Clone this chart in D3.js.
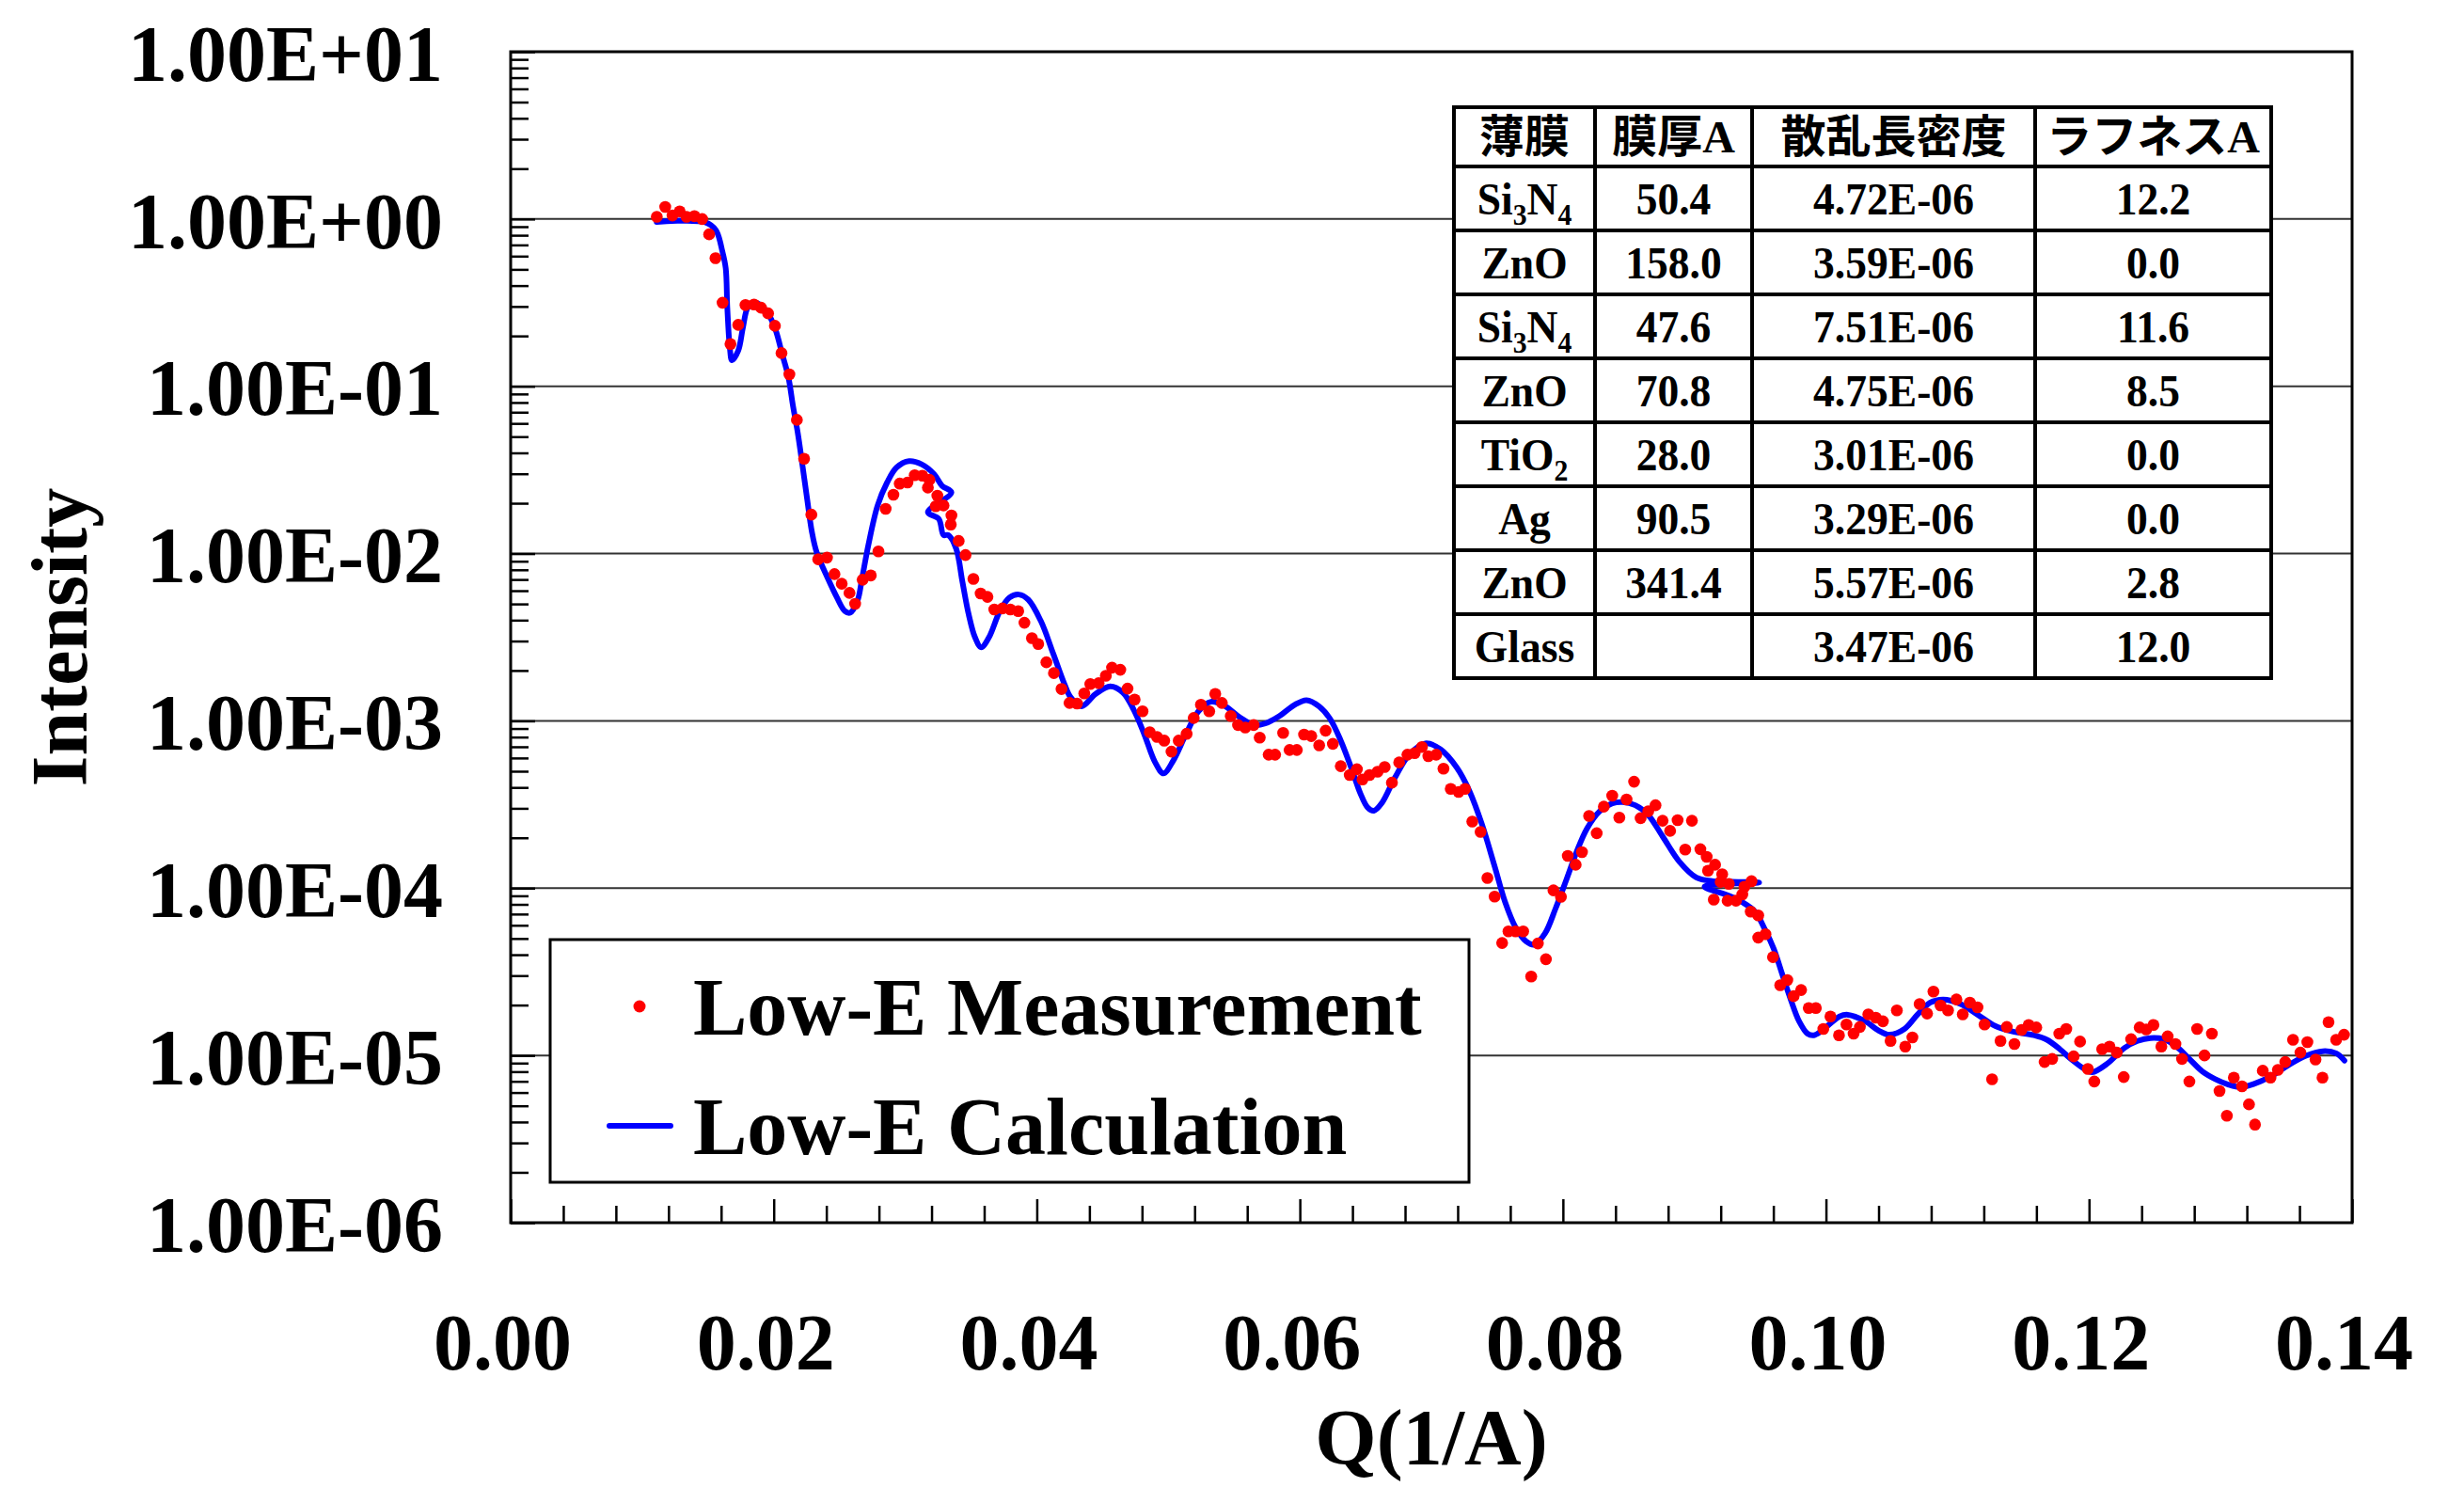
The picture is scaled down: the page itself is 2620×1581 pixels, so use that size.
<!DOCTYPE html>
<html>
<head>
<meta charset="utf-8">
<script src="https://d3js.org/d3.v7.min.js"></script>
<style>
  body { margin: 0; background: #fff; }
  svg { display: block; }
  text { font-family: "Liberation Serif", "Times New Roman", "Noto Sans CJK JP", serif; font-weight: bold; fill: #000; }
</style>
</head>
<body>
<svg id="chart"></svg>
<script>
// ---- data ----
// measured reflectivity [Q (1/A), intensity]
const measured = [
  [0.01111,1.03],[0.01175,1.18],[0.0123,1.05],[0.01285,1.11],[0.01337,1.03],[0.01397,1.04],[0.01456,1.0],
  [0.01509,0.81],[0.01557,0.583],[0.01611,0.316],[0.01671,0.179],[0.0173,0.233],[0.01785,0.306],[0.0185,0.308],
  [0.01904,0.295],[0.01957,0.273],[0.02009,0.23],[0.02059,0.158],[0.02119,0.118],[0.02176,0.063],[0.02231,0.0369],
  [0.02286,0.0171],[0.02338,0.00925],[0.02405,0.00946],[0.02462,0.00754],[0.02517,0.0066],[0.02576,0.00582],
  [0.02619,0.00501],[0.02676,0.00698],[0.02738,0.0074],[0.02796,0.0103],[0.02851,0.0185],[0.0291,0.0225],
  [0.02958,0.0262],[0.03017,0.0266],[0.03072,0.0294],[0.0313,0.0292],[0.03184,0.0276],[0.03172,0.0248],
  [0.03244,0.0222],[0.03232,0.0192],[0.03291,0.0194],[0.03351,0.0169],[0.03346,0.0149],[0.03406,0.0119],
  [0.03458,0.0098],[0.03518,0.00705],[0.03573,0.00577],[0.03625,0.00551],[0.03677,0.00463],[0.0374,0.0047],
  [0.03799,0.00463],[0.03859,0.00453],[0.03906,0.00386],[0.03963,0.00312],[0.04011,0.00288],[0.04073,0.00224],
  [0.0413,0.00193],[0.04188,0.00155],[0.04249,0.00128],[0.04306,0.00127],[0.04361,0.00146],[0.04407,0.00166],
  [0.0447,0.00168],[0.04525,0.00186],[0.04572,0.00208],[0.04635,0.00202],[0.0469,0.00156],[0.04744,0.00134],
  [0.04804,0.00114],[0.04859,0.000855],[0.04914,0.000802],[0.04969,0.000762],[0.05024,0.000655],[0.05079,0.000762],
  [0.05139,0.000837],[0.05193,0.00104],[0.05248,0.00125],[0.05311,0.00114],[0.05357,0.00145],[0.05407,0.00128],
  [0.05475,0.00107],[0.0553,0.000944],[0.05585,0.000912],[0.05649,0.000944],[0.05695,0.000794],[0.05763,0.000628],
  [0.05812,0.000628],[0.05873,0.000847],[0.05922,0.00067],[0.05977,0.00067],[0.06032,0.000828],[0.06087,0.000811],
  [0.06147,0.000714],[0.06196,0.000873],[0.06251,0.000729],[0.06311,0.000536],[0.06379,0.000475],[0.06434,0.000514],
  [0.06476,0.000446],[0.0653,0.000475],[0.06591,0.000497],[0.06645,0.00053],[0.067,0.000427],[0.06755,0.000564],
  [0.06818,0.000628],[0.06873,0.000641],[0.06928,0.000698],[0.06977,0.000615],[0.07037,0.000628],[0.07092,0.000518],
  [0.07147,0.000392],[0.07207,0.000376],[0.07256,0.000392],[0.07311,0.00025],[0.07374,0.000217],
  [0.07426,1.15e-4],[0.07481,8.9e-5],[0.07538,4.7e-5],[0.07586,5.52e-5],[0.0764,5.52e-5],[0.07698,5.52e-5],
  [0.07759,2.96e-5],[0.0781,4.67e-5],[0.07871,3.76e-5],[0.07928,9.7e-5],[0.07985,8.87e-5],[0.08037,1.56e-4],
  [0.08097,1.38e-4],[0.08145,1.64e-4],[0.08199,2.7e-4],[0.08257,2.13e-4],[0.08311,3.07e-4],[0.08375,3.57e-4],
  [0.08429,2.64e-4],[0.08484,3.39e-4],[0.08541,4.33e-4],[0.08591,2.62e-4],[0.08649,2.88e-4],[0.08704,3.13e-4],
  [0.08758,2.53e-4],[0.08815,2.2e-4],[0.08872,2.55e-4],[0.0893,1.7e-4],[0.08981,2.53e-4],[0.09045,1.71e-4],
  [0.09093,1.54e-4],[0.09103,1.27e-4],[0.09157,1.38e-4],[0.09211,1.21e-4],[0.09199,1.09e-4],[0.09262,1.06e-4],
  [0.09147,8.53e-5],[0.09252,8.41e-5],[0.09316,8.41e-5],[0.09364,9.16e-5],[0.0938,1.02e-4],[0.09434,1.1e-4],
  [0.09428,7.24e-5],[0.09485,6.87e-5],[0.09485,5.06e-5],[0.0954,5.31e-5],[0.09597,3.87e-5],[0.09652,2.63e-5],
  [0.09706,2.82e-5],[0.09754,2.26e-5],[0.09811,2.46e-5],[0.09869,1.92e-5],[0.09923,1.92e-5],[0.0998,1.44e-5],
  [0.10034,1.71e-5],[0.10099,1.32e-5],[0.10156,1.53e-5],[0.1021,1.35e-5],[0.10258,1.48e-5],[0.10322,1.76e-5],
  [0.10379,1.68e-5],[0.10433,1.6e-5],[0.10491,1.22e-5],[0.10539,1.86e-5],[0.10603,1.13e-5],[0.10657,1.28e-5],
  [0.10712,2.03e-5],[0.10769,1.78e-5],[0.10817,2.41e-5],[0.10871,1.99e-5],[0.10928,1.86e-5],[0.10992,2.16e-5],
  [0.1104,1.76e-5],[0.11094,2.07e-5],[0.11152,1.94e-5],[0.11206,1.53e-5],[0.11263,7.2e-6],[0.11327,1.22e-5],
  [0.11375,1.48e-5],[0.11433,1.17e-5],[0.11487,1.42e-5],[0.11541,1.52e-5],[0.11599,1.47e-5],[0.11662,9.14e-6],
  [0.1172,9.53e-6],[0.11774,1.35e-5],[0.11827,1.44e-5],[0.11883,9.87e-6],[0.11932,1.21e-5],[0.11991,8.3e-6],
  [0.1204,6.98e-6],[0.121,1.09e-5],[0.12156,1.13e-5],[0.12211,1.04e-5],[0.12264,7.43e-6],[0.1232,1.25e-5],
  [0.12385,1.47e-5],[0.12435,1.43e-5],[0.1249,1.52e-5],[0.1255,1.13e-5],[0.12598,1.3e-5],[0.12657,1.17e-5],
  [0.12707,9.53e-6],[0.12763,6.98e-6],[0.12822,1.44e-5],[0.12878,1.0e-5],[0.12934,1.35e-5],[0.12992,6.12e-6],
  [0.13048,4.36e-6],[0.13101,7.36e-6],[0.13163,6.53e-6],[0.13216,5.1e-6],[0.13262,3.86e-6],[0.13321,8.1e-6],
  [0.1338,7.36e-6],[0.13436,8.2e-6],[0.13492,9.14e-6],[0.13551,1.24e-5],[0.13607,1.04e-5],[0.1366,1.2e-5],
  [0.13722,9.46e-6],[0.13775,7.36e-6],[0.13821,1.58e-5],[0.13879,1.24e-5],[0.13939,1.33e-5]
];

// calculated curve [Q, intensity] (order kept as plotted, incl. the two small back-steps)
const calculated = [
  [0.0111,0.96],[0.0148,0.955],[0.0156,0.857],[0.0161,0.638],[0.01635,0.508],[0.01647,0.295],[0.01666,0.171],
  [0.01683,0.143],[0.0173,0.163],[0.01766,0.225],[0.01802,0.295],[0.0185,0.316],[0.01909,0.302],[0.01968,0.263],
  [0.02016,0.215],[0.02064,0.156],[0.02111,0.114],[0.02147,0.0759],[0.02183,0.0525],[0.02219,0.0334],
  [0.02254,0.0212],[0.0229,0.0135],[0.02326,0.0102],[0.0241,0.00714],[0.02481,0.00545],[0.0254,0.00454],
  [0.02581,0.00443],[0.02636,0.0052],[0.02672,0.00714],[0.02719,0.0112],[0.0279,0.0194],[0.02862,0.0266],
  [0.02934,0.0327],[0.03029,0.0357],[0.03124,0.0342],[0.0322,0.0298],[0.0328,0.0254],[0.03351,0.0232],
  [0.03172,0.0177],[0.03255,0.0161],[0.03291,0.0129],[0.03327,0.0129],[0.03387,0.0107],[0.03434,0.00682],
  [0.03482,0.00434],[0.0353,0.00316],[0.03577,0.00275],[0.03637,0.00316],[0.0372,0.00454],[0.03792,0.00545],
  [0.03863,0.00569],[0.03935,0.00531],[0.04031,0.00395],[0.04126,0.00251],[0.04209,0.00167],[0.04256,0.00139],
  [0.04339,0.00122],[0.04448,0.00145],[0.04558,0.00161],[0.04654,0.00148],[0.04736,0.00117],[0.04818,0.000828],
  [0.049,0.000564],[0.04963,0.000485],[0.05037,0.000577],[0.05133,0.000828],[0.05229,0.00114],[0.05325,0.0013],
  [0.05435,0.00122],[0.05544,0.00105],[0.05653,0.000944],[0.05736,0.000964],[0.05845,0.00107],[0.05955,0.00124],
  [0.06051,0.00133],[0.06147,0.00122],[0.06229,0.00103],[0.06311,0.000762],[0.06393,0.000518],[0.06461,0.000367],
  [0.06516,0.000303],[0.06563,0.00029],[0.06625,0.000324],[0.06722,0.000456],[0.06831,0.000628],[0.06954,0.000733],
  [0.0707,0.000676],[0.07194,0.000525],[0.0729,0.00038],[0.07385,0.00024],[0.07481,0.000135],[0.07561,8.24e-5],
  [0.0764,5.83e-5],[0.0772,4.81e-5],[0.07784,4.6e-5],[0.07864,5.36e-5],[0.07944,7.55e-5],[0.08024,1.11e-4],
  [0.08103,1.64e-4],[0.08183,2.27e-4],[0.08279,2.88e-4],[0.08375,3.21e-4],[0.08454,3.27e-4],[0.0855,3.13e-4],
  [0.08646,2.75e-4],[0.08758,2.04e-4],[0.08885,1.44e-4],[0.09013,1.16e-4],[0.09141,1.1e-4],[0.09332,1.09e-4],
  [0.09492,1.08e-4],[0.09077,1.02e-4],[0.09269,8.97e-5],[0.09364,8.24e-5],[0.0946,7.24e-5],[0.0954,5.58e-5],
  [0.09604,4.32e-5],[0.09668,3.05e-5],[0.09732,2.16e-5],[0.09796,1.6e-5],[0.0986,1.35e-5],[0.09908,1.32e-5],
  [0.09971,1.41e-5],[0.10103,1.71e-5],[0.10166,1.75e-5],[0.103,1.6e-5],[0.10399,1.41e-5],[0.10482,1.33e-5],
  [0.10597,1.44e-5],[0.10695,1.75e-5],[0.10793,2.07e-5],[0.10892,2.16e-5],[0.11023,2.03e-5],[0.11154,1.75e-5],
  [0.11286,1.5e-5],[0.11417,1.39e-5],[0.11581,1.32e-5],[0.1168,1.24e-5],[0.11778,1.09e-5],[0.11876,9.33e-6],
  [0.11975,8.2e-6],[0.12024,7.93e-6],[0.12139,8.93e-6],[0.1227,1.11e-5],[0.12369,1.22e-5],[0.12467,1.27e-5],
  [0.12566,1.25e-5],[0.12664,1.13e-5],[0.12763,9.53e-6],[0.12861,8.02e-6],[0.1296,7.21e-6],[0.13058,6.7e-6],
  [0.13156,6.46e-6],[0.13255,6.76e-6],[0.13386,7.52e-6],[0.13517,8.75e-6],[0.13649,9.95e-6],[0.13778,1.06e-5],
  [0.13879,1.03e-5],[0.13942,9.31e-6]
];

const yDecades = [1e1, 1e0, 1e-1, 1e-2, 1e-3, 1e-4, 1e-5, 1e-6];
const yTickLabels = ["1.00E+01", "1.00E+00", "1.00E-01", "1.00E-02", "1.00E-03", "1.00E-04", "1.00E-05", "1.00E-06"];
const xMajor = [0, 0.02, 0.04, 0.06, 0.08, 0.10, 0.12, 0.14];
const xTickLabels = ["0.00", "0.02", "0.04", "0.06", "0.08", "0.10", "0.12", "0.14"];
const seriesNames = ["Low-E Measurement", "Low-E Calculation"];

// layer table
const tableHeaders = ["薄膜", "膜厚A", "散乱長密度", "ラフネスA"];
const films = ["Si3N4", "ZnO", "Si3N4", "ZnO", "TiO2", "Ag", "ZnO", "Glass"];
const thicknessA = ["50.4", "158.0", "47.6", "70.8", "28.0", "90.5", "341.4", ""];
const sldValues = ["4.72E-06", "3.59E-06", "7.51E-06", "4.75E-06", "3.01E-06", "3.29E-06", "5.57E-06", "3.47E-06"];
const roughnessA = ["12.2", "0.0", "11.6", "8.5", "0.0", "0.0", "2.8", "12.0"];

// ---- chart ----
const svg = d3.select("#chart")
  .attr("width", 2620)
  .attr("height", 1581);

const margin = { top: 55, right: 119, bottom: 281, left: 543 };
const width = 2620 - margin.left - margin.right;
const height = 1581 - margin.top - margin.bottom;

const g = svg.append("g")
  .attr("transform", `translate(${margin.left},${margin.top})`);

const x = d3.scaleLinear().domain([0, 0.14]).range([0, width]);
const y = d3.scaleLog().domain([1e-6, 1e1]).range([height, 0]);

// horizontal grid at each decade
g.append("g")
  .selectAll("line")
  .data(yDecades.slice(1, -1))
  .enter().append("line")
  .attr("x1", 0).attr("x2", width)
  .attr("y1", d => y(d)).attr("y2", d => y(d))
  .attr("stroke", "#333").attr("stroke-width", 2);

// table of layers
const colEdges = [1546, 1696, 1863, 2164, 2415];
const rowEdges = [114, 177];
for (let i = 0; i < films.length; i++) rowEdges.push(177 + (i + 1) * 68);

const table = svg.append("g");
const rows = [tableHeaders].concat(films.map((f, i) => [f, thicknessA[i], sldValues[i], roughnessA[i]]));

rows.forEach((row, r) => {
  row.forEach((cell, c) => {
    table.append("rect")
      .attr("x", colEdges[c]).attr("y", rowEdges[r])
      .attr("width", colEdges[c + 1] - colEdges[c])
      .attr("height", rowEdges[r + 1] - rowEdges[r])
      .attr("fill", "#fff").attr("stroke", "#000").attr("stroke-width", 4);

    const fs = r === 0 ? 48 : 49;
    const sx = r === 0 ? 1 : 0.93;
    const cx = (colEdges[c] + colEdges[c + 1]) / 2;
    const by = (rowEdges[r] + rowEdges[r + 1]) / 2 + fs * 0.34;
    const t = table.append("text")
      .attr("transform", `translate(${cx},${by}) scale(${sx},1)`)
      .attr("text-anchor", "middle")
      .attr("font-size", fs);

    if (r > 0 && c === 0) {
      // chemical formula: digits as subscripts
      const parts = cell.split(/(\d+)/).filter(p => p !== "");
      let shifted = false;
      parts.forEach(p => {
        const isSub = /^\d+$/.test(p);
        const ts = t.append("tspan").text(p);
        if (isSub) { ts.attr("font-size", 32).attr("dy", 11); shifted = true; }
        else if (shifted) { ts.attr("dy", -11); shifted = false; }
      });
    } else {
      t.text(cell);
    }
  });
});

// legend
const legend = svg.append("g");
legend.append("rect")
  .attr("x", 585).attr("y", 999)
  .attr("width", 977).attr("height", 258)
  .attr("fill", "#fff").attr("stroke", "#000").attr("stroke-width", 3);
legend.append("circle")
  .attr("cx", 680).attr("cy", 1070).attr("r", 6.5)
  .attr("fill", "#ff0000");
legend.append("line")
  .attr("x1", 648).attr("x2", 713).attr("y1", 1197).attr("y2", 1197)
  .attr("stroke", "#0000ff").attr("stroke-width", 6).attr("stroke-linecap", "round");
legend.selectAll("text.lg")
  .data(seriesNames)
  .enter().append("text")
  .attr("class", "lg")
  .attr("x", 737)
  .attr("y", (d, i) => 1100 + i * 127)
  .attr("font-size", 86)
  .text(d => d);

// calculated curve
const line = d3.line()
  .x(d => x(d[0]))
  .y(d => y(d[1]))
  .curve(d3.curveCatmullRom.alpha(0.5));

g.append("path")
  .datum(calculated)
  .attr("d", line)
  .attr("fill", "none")
  .attr("stroke", "#0000ff")
  .attr("stroke-width", 6)
  .attr("stroke-linejoin", "round")
  .attr("stroke-linecap", "round");

// measured points
g.append("g")
  .selectAll("circle")
  .data(measured)
  .enter().append("circle")
  .attr("cx", d => x(d[0]))
  .attr("cy", d => y(d[1]))
  .attr("r", 6.3)
  .attr("fill", "#ff0000");

// y axis: major + minor ticks, pointing inward
const yMinor = [];
for (let e = -6; e < 1; e++) for (let m = 2; m <= 9; m++) yMinor.push(m * Math.pow(10, e));

const yAxisMinor = g.append("g")
  .call(d3.axisLeft(y).tickValues(yMinor).tickSize(-19).tickFormat(""));
const yAxis = g.append("g")
  .call(d3.axisLeft(y).tickValues(yDecades).tickSize(-26).tickPadding(72)
    .tickFormat((d, i) => yTickLabels[i]));
yAxis.selectAll("text").attr("font-size", 84).attr("dy", "0.36em").attr("fill", "#000");

// x axis: major every 0.02, minor every 0.004
const xMinor = d3.range(0, 36).filter(i => i % 5 !== 0).map(i => i * 0.004);
const xAxisMinor = g.append("g")
  .attr("transform", `translate(0,${height})`)
  .call(d3.axisBottom(x).tickValues(xMinor).tickSize(-18).tickFormat(""));
const xAxis = g.append("g")
  .attr("transform", `translate(0,${height})`)
  .call(d3.axisBottom(x).tickValues(xMajor).tickSize(-25)
    .tickFormat((d, i) => xTickLabels[i]));
xAxis.selectAll("text").attr("font-size", 84).attr("y", 156).attr("dy", null).attr("dx", -9).attr("fill", "#000");

[yAxisMinor, yAxis, xAxisMinor, xAxis].forEach(a => {
  a.select(".domain").remove();
  a.selectAll("line").attr("stroke", "#000").attr("stroke-width", 2.5);
  a.attr("font-family", null).attr("font-size", null);
});

// plot frame
g.append("rect")
  .attr("width", width).attr("height", height)
  .attr("fill", "none").attr("stroke", "#000").attr("stroke-width", 3);

// axis titles
svg.append("text")
  .attr("x", margin.left + width / 2).attr("y", 1557)
  .attr("text-anchor", "middle").attr("font-size", 84)
  .text("Q(1/A)");

svg.append("text")
  .attr("transform", `translate(92,${margin.top + height / 2}) rotate(-90)`)
  .attr("text-anchor", "middle").attr("font-size", 84)
  .text("Intensity");
</script>
</body>
</html>
